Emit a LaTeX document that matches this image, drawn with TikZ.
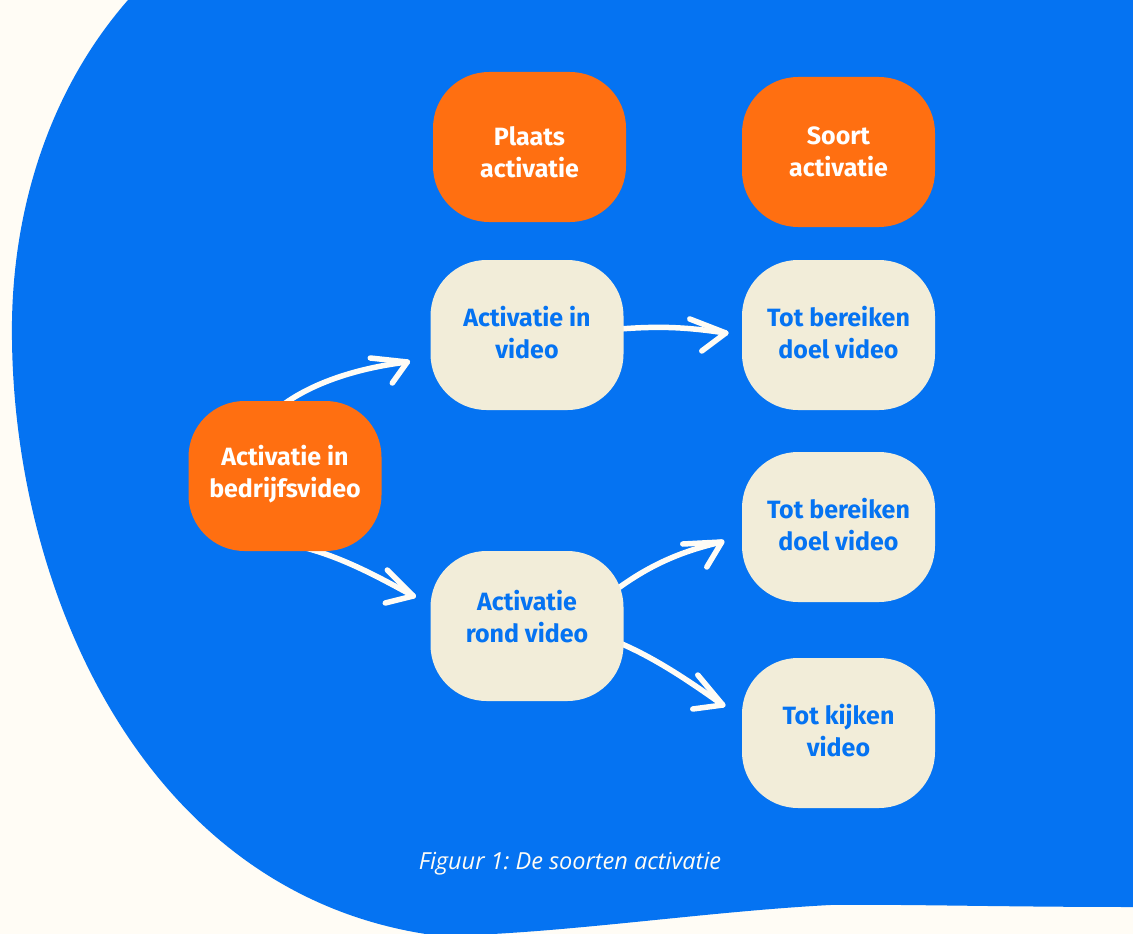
\documentclass[tikz,border=0pt]{standalone}
\usepackage{fontspec}
\setmainfont{Fira Sans}
\newfontfamily\capfont{Open Sans}
\usetikzlibrary{calc}
\definecolor{blobblue}{RGB}{5,115,242}
\definecolor{boxorange}{RGB}{255,111,17}
\definecolor{boxcream}{RGB}{242,237,217}
\definecolor{paper}{RGB}{255,252,245}
\pgfdeclarelayer{bg}
\pgfdeclarelayer{links}
\pgfsetlayers{bg,links,main}
\begin{document}
\frenchspacing
\begin{tikzpicture}[x=1pt,y=-1pt,
  card/.style={rounded corners=56pt, minimum width=193pt, minimum height=150pt, inner sep=0pt},
  cardtext/.style={align=center, inner sep=0pt, font=\bfseries\fontsize{25}{32}\selectfont},
  hdr/.style={card, fill=boxorange},
  hdrtext/.style={cardtext, text=white},
  opt/.style={card, fill=boxcream},
  opttext/.style={cardtext, text=blobblue},
  stroke/.style={draw=paper, line width=5.5pt, line cap=round, line join=round}]
\useasboundingbox (0,0) rectangle (1133,934);

% column headers
\node[hdr, label={[hdrtext, yshift=-5pt]center:{Plaats\\activatie}}] (place) at (529.5,147) {};
\node[hdr, label={[hdrtext]center:{Soort\\activatie}}] (kind) at (838.5,152) {};
% root and options
\node[hdr, label={[hdrtext, yshift=2pt]center:{Activatie in\\bedrijfsvideo}}] (root) at (285,476) {};
\node[opt, label={[opttext, yshift=2.5pt]center:{Activatie in\\video}}] (inv) at (527,335) {};
\node[opt, label={[opttext, yshift=9pt]center:{Activatie\\rond video}}] (rond) at (527,626) {};
\node[opt, label={[opttext, yshift=2.5pt]center:{Tot bereiken\\doel video}}] (goalA) at (838.5,335) {};
\node[opt, label={[opttext, yshift=2.5pt]center:{Tot bereiken\\doel video}}] (goalB) at (838.5,527) {};
\node[opt, label={[opttext, yshift=2.5pt]center:{Tot kijken\\video}}] (watch) at (838.5,733) {};

\node[text=paper, font=\capfont\itshape\fontsize{23.5}{28}\selectfont] (cap) at (570,864)
  {Figuur 1: De soorten activatie};

% background sheet and blue blob
\begin{pgfonlayer}{bg}
\fill[paper] (0,0) rectangle (1133,934);
\fill[blobblue] (128,0) .. controls (45,95) and (10,220) .. (12,340)
  .. controls (15,600) and (150,900) .. (440,936)
  .. controls (560,934) and (700,912) .. (830,905)
  .. controls (900,904) and (1000,907) .. (1133,907)
  -- (1133,0) -- cycle;
\end{pgfonlayer}

% hand-drawn arrows
\begin{pgfonlayer}{links}
\coordinate (t1) at ($(inv.west)+(-23,27)$);
\draw[stroke] ($(root.north)+(-2,4)$) .. controls +(30,-22) and +(-50,6) .. (t1);
\draw[stroke] ($(t1)+(-37,-4)$) -- (t1) -- ($(t1)+(-15,21)$);

\coordinate (t2) at ($(goalA.west)+(-16,-2)$);
\draw[stroke] ($(inv.east)+(-4,-6)$) .. controls +(40,-3) and +(-40,-6) .. (t2);
\draw[stroke] ($(t2)+(-36,-14)$) -- (t2) -- ($(t2)+(-24,18)$);

\coordinate (t3) at ($(rond.west)+(-17,-30)$);
\draw[stroke] ($(root.south)+(18,-4)$) .. controls +(38,10) and +(-40,-22) .. (t3);
\draw[stroke] ($(t3)+(-26,-26)$) -- (t3) -- ($(t3)+(-28,7)$);

\coordinate (t4) at ($(goalB.west)+(-20,15)$);
\draw[stroke] ($(rond.east)+(-8,-36)$) .. controls +(30,-22) and +(-45,10) .. (t4);
\draw[stroke] ($(t4)+(-39,2)$) -- (t4) -- ($(t4)+(-15,25)$);

\coordinate (t5) at ($(watch.west)+(-19,-28)$);
\draw[stroke] ($(rond.east)+(-4,17)$) .. controls +(35,15) and +(-35,-25) .. (t5);
\draw[stroke] ($(t5)+(-25,-30)$) -- (t5) -- ($(t5)+(-30,4)$);
\end{pgfonlayer}
\end{tikzpicture}
\end{document}
